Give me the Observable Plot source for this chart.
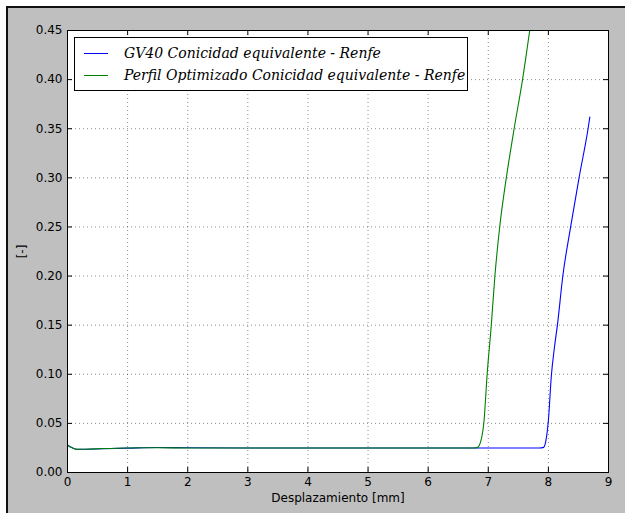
<!DOCTYPE html>
<html>
<head>
<meta charset="utf-8">
<script src="https://cdn.jsdelivr.net/npm/d3@7"></script>
<script src="https://cdn.jsdelivr.net/npm/@observablehq/plot@0.6"></script>
<style>
  html, body { margin: 0; padding: 0; background: #fff; }
  #wrap { position: relative; width: 625px; height: 513px; overflow: hidden; background: #fff; }
  #bg { position: absolute; left: 6px; top: 6px; right: 0; bottom: 0; background: #bfbfbf;
        border-top: 2px solid #111; border-left: 2px solid #111; }
  #chart { position: absolute; left: 0; top: 0; }
  #legend { position: absolute; left: 74px; top: 37px; width: 394px; height: 54px;
            background: #fff; border: 1px solid #000; box-sizing: border-box;
            font-family: "DejaVu Serif", serif; font-style: italic; font-size: 14px; color: #000; }
  .row { position: absolute; left: 0; height: 20px; display: flex; align-items: center; white-space: nowrap; }
  .sw { width: 24px; height: 0; border-top: 1px solid; margin-left: 9px; margin-right: 16px; }
</style>
</head>
<body>
<div id="wrap">
  <div id="bg"></div>
  <div id="chart"></div>
  <div id="legend"></div>
</div>
<script>
// ---- data ----
const seriesNames = ["GV40 Conicidad equivalente - Renfe", "Perfil Optimizado Conicidad equivalente - Renfe"];
const seriesColors = ["#0000ff", "#008000"];

const xBlue = [0, 0.05, 0.15, 0.3, 0.6, 1.0, 1.5, 2.0, 3, 4, 5, 6, 7, 7.85, 7.92, 7.96, 8.0, 8.05, 8.1, 8.15, 8.24, 8.37, 8.51, 8.66, 8.69];
const yBlue = [0.028, 0.026, 0.0235, 0.0237, 0.0242, 0.0248, 0.0255, 0.0252, 0.025, 0.025, 0.025, 0.025, 0.025, 0.025, 0.0256, 0.033, 0.053, 0.099, 0.127, 0.150, 0.200, 0.250, 0.300, 0.350, 0.362];

const xGreen = [0, 0.05, 0.15, 0.3, 0.6, 1.0, 1.5, 2.0, 3, 4, 5, 6, 6.75, 6.82, 6.88, 6.93, 6.98, 7.05, 7.11, 7.19, 7.30, 7.43, 7.57, 7.69, 7.72];
const yGreen = [0.028, 0.026, 0.0235, 0.0237, 0.0244, 0.025, 0.0252, 0.025, 0.025, 0.025, 0.025, 0.025, 0.025, 0.0256, 0.033, 0.053, 0.099, 0.150, 0.200, 0.250, 0.300, 0.350, 0.400, 0.450, 0.462];

const xTicks = [0, 1, 2, 3, 4, 5, 6, 7, 8, 9];
const yTicks = [0, 0.05, 0.10, 0.15, 0.20, 0.25, 0.30, 0.35, 0.40, 0.45];
const xLabel = "Desplazamiento [mm]";
const yLabel = "[-]";

// ---- build ----
const blue = xBlue.map((x, i) => ({x, y: yBlue[i]}));
const green = xGreen.map((x, i) => ({x, y: yGreen[i]}));

const W = 625, H = 513;
const mL = 67, mR = 17, mT = 30, mB = 41;
const innerW = W - mL - mR, innerH = H - mT - mB;
const tickLen = 5;

const chart = Plot.plot({
  width: W, height: H,
  marginLeft: mL, marginRight: mR, marginTop: mT, marginBottom: mB,
  style: {background: "transparent", fontFamily: "DejaVu Sans, sans-serif", fontSize: "12px", color: "#000", overflow: "visible"},
  x: {domain: [0, 9]},
  y: {domain: [0, 0.45]},
  marks: [
    Plot.frame({fill: "#fff", stroke: null}),
    Plot.gridX(xTicks.slice(1, -1), {stroke: "#000", strokeOpacity: 0.45, strokeDasharray: "1,3"}),
    Plot.gridY(yTicks.slice(1, -1), {stroke: "#000", strokeOpacity: 0.45, strokeDasharray: "1,3"}),
    Plot.line(blue, {x: "x", y: "y", stroke: seriesColors[0], strokeWidth: 1.1, curve: "monotone-x", clip: true}),
    Plot.line(green, {x: "x", y: "y", stroke: seriesColors[1], strokeWidth: 1.1, curve: "monotone-x", clip: true}),
    Plot.tickX(xTicks, {x: d => d, insetTop: innerH - tickLen, stroke: "#000"}),
    Plot.tickX(xTicks, {x: d => d, insetBottom: innerH - tickLen, stroke: "#000"}),
    Plot.tickY(yTicks, {y: d => d, insetRight: innerW - tickLen, stroke: "#000"}),
    Plot.tickY(yTicks, {y: d => d, insetLeft: innerW - tickLen, stroke: "#000"}),
    Plot.frame({stroke: "#000", strokeWidth: 1}),
    Plot.axisX(xTicks, {tickSize: 0, tickPadding: 5, label: null, fontSize: 12}),
    Plot.axisY(yTicks, {tickSize: 0, tickPadding: 5, label: null, tickFormat: d3.format(".2f"), fontSize: 12}),
    Plot.text([xLabel], {frameAnchor: "bottom", lineAnchor: "middle", textAnchor: "middle", dy: 26, text: d => d, fontSize: 12}),
    Plot.text([yLabel], {frameAnchor: "left", lineAnchor: "middle", textAnchor: "middle", dx: -45, rotate: -90, text: d => d, fontSize: 12})
  ]
});
document.getElementById("chart").append(chart);

// legend
const legend = document.getElementById("legend");
const rowTops = [5, 27];
seriesNames.forEach((name, i) => {
  const row = document.createElement("div");
  row.className = "row";
  row.style.top = rowTops[i] + "px";
  const sw = document.createElement("span");
  sw.className = "sw";
  sw.style.borderTopColor = seriesColors[i];
  const t = document.createElement("span");
  t.textContent = name;
  row.append(sw, t);
  legend.append(row);
});
</script>
</body>
</html>
